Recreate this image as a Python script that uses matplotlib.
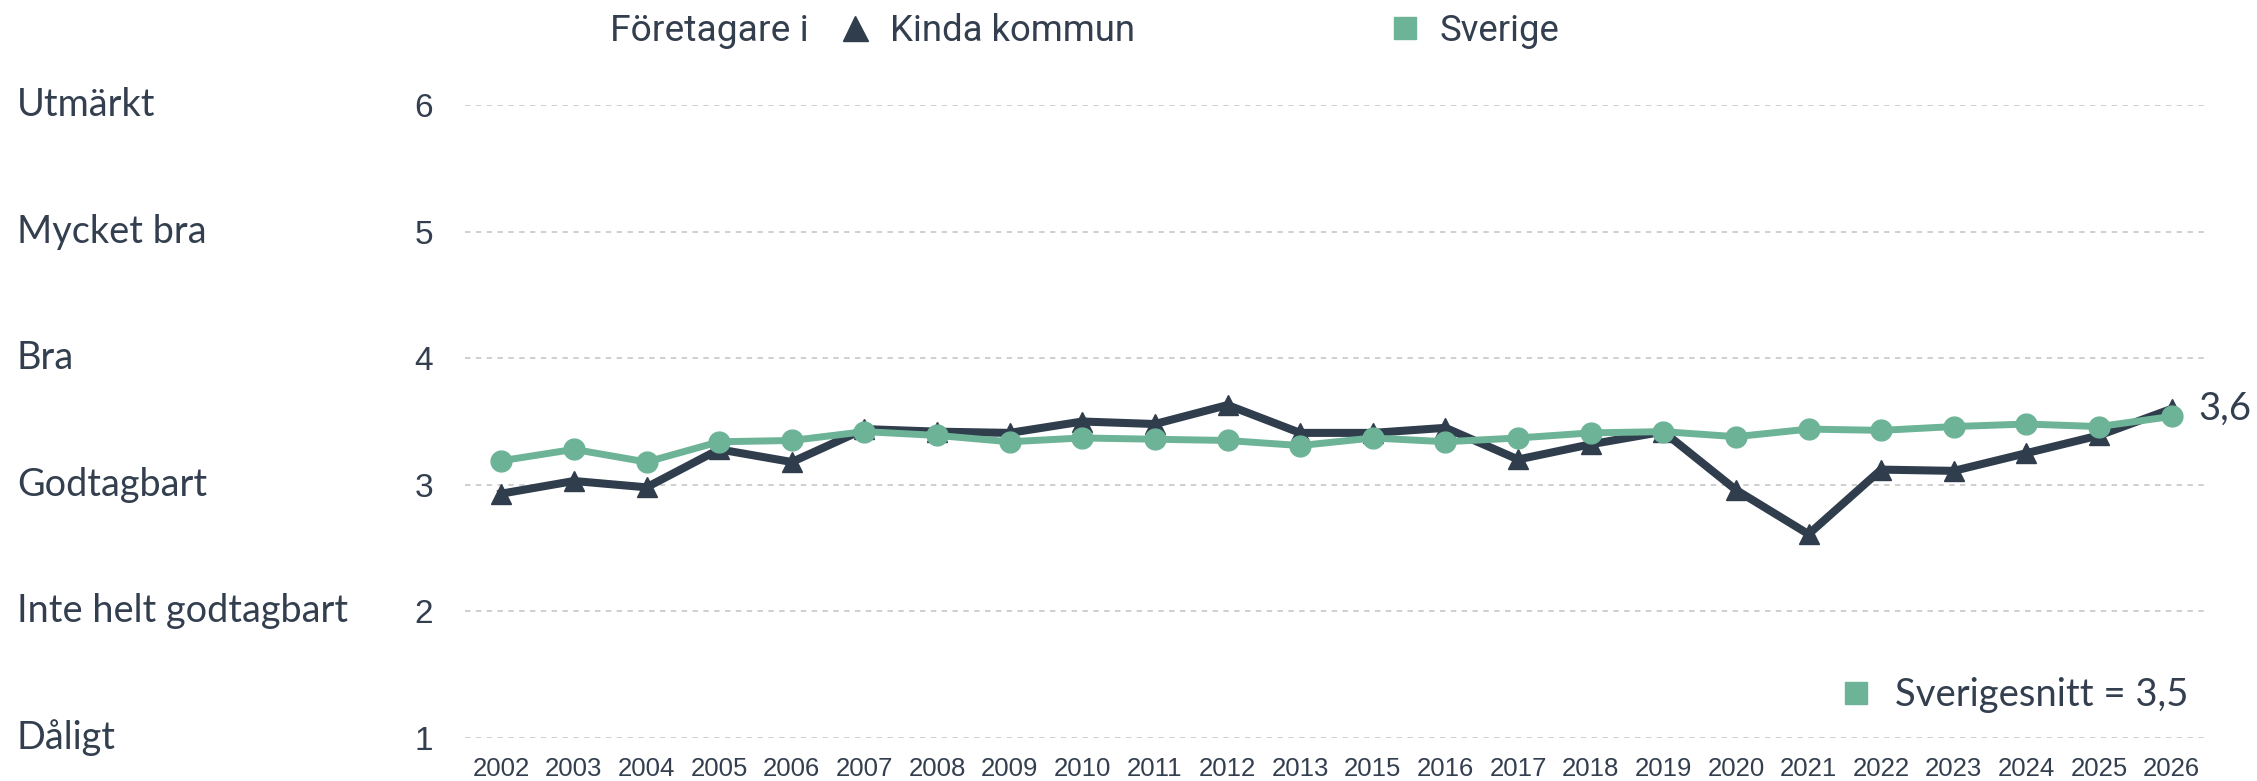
import matplotlib.pyplot as plt
import numpy as np
from matplotlib.lines import Line2D
from matplotlib.transforms import blended_transform_factory

plt.rcParams['font.family'] = ['Roboto', 'DejaVu Sans']

# data
years = ['2002', '2003', '2004', '2005', '2006', '2007', '2008', '2009', '2010', '2011',
         '2012', '2013', '2015', '2016', '2017', '2018', '2019', '2020', '2021', '2022',
         '2023', '2024', '2025', '2026']
kinda = [2.93, 3.03, 2.98, 3.28, 3.18, 3.44, 3.42, 3.41, 3.50, 3.48,
         3.63, 3.41, 3.41, 3.45, 3.20, 3.32, 3.42, 2.96, 2.61, 3.12,
         3.11, 3.25, 3.39, 3.60]
sverige = [3.19, 3.28, 3.18, 3.34, 3.35, 3.42, 3.39, 3.34, 3.37, 3.36,
           3.35, 3.31, 3.37, 3.34, 3.37, 3.41, 3.42, 3.38, 3.44, 3.43,
           3.46, 3.48, 3.46, 3.54]
grade_values = [6, 5, 4, 3, 2, 1]
grade_labels = ['Utmärkt', 'Mycket bra', 'Bra', 'Godtagbart', 'Inte helt godtagbart', 'Dåligt']

dark = '#2f3d4d'
green = '#6db397'
text_col = '#333f4f'
label_font = ['Lato', 'DejaVu Sans']
num_font = ['Liberation Sans', 'DejaVu Sans']

W, H = 2257, 781
fig = plt.figure(figsize=(W / 100, H / 100), dpi=100)
ax = fig.add_axes([465 / W, 1 - 738 / H, (2208 - 465) / W, (738 - 105) / H])

x = np.arange(len(years))
ax.plot(x, kinda, color=dark, lw=5.8, marker='^', markersize=15, zorder=3, clip_on=False)
ax.plot(x, sverige, color=green, lw=5, marker='o', markersize=15, zorder=4, clip_on=False)

ax.set_xlim(-0.5, len(years) - 0.5)
ax.set_ylim(1, 6)
ax.set_yticks(grade_values)
ax.set_yticklabels([str(v) for v in grade_values], fontsize=24, color=text_col, family=num_font)
ax.set_xticks(x)
ax.set_xticklabels(years, fontsize=18.5, color=text_col, family=num_font)
ax.tick_params(axis='y', length=0, pad=23)
ax.tick_params(axis='x', length=0, pad=14)
for s in ax.spines.values():
    s.set_visible(False)
ax.grid(axis='y', color='#cccccc', linestyle=(0, (3, 3)), lw=1.3)
ax.set_axisbelow(True)

# grade names on the far left
trans = blended_transform_factory(fig.transFigure, ax.transData)
for v, lab in zip(grade_values, grade_labels):
    ax.text(17 / W, v, lab, transform=trans, ha='left', va='center', fontsize=27.3,
            color=text_col, family=label_font)

# last value label
ax.annotate(f'{kinda[-1]:.1f}'.replace('.', ','), (x[-1], kinda[-1]), xytext=(19, 0),
            textcoords='offset points', ha='left', va='center', fontsize=27.5, color=text_col,
            family=label_font, annotation_clip=False)

# top legend
fig.text(610 / W, 1 - 31 / H, 'Företagare i', ha='left', va='center', fontsize=26.8, color=text_col)
handles = [Line2D([], [], ls='none', marker='^', markersize=18, color=dark),
           Line2D([], [], ls='none', marker='s', markersize=16, color=green)]
fig.legend(handles, ['Kinda kommun', 'Sverige'], loc='center left', ncol=2,
           bbox_to_anchor=(837 / W, 1 - 31 / H), frameon=False, fontsize=26.3,
           handlelength=1, handletextpad=0.45, columnspacing=6.9,
           borderpad=0, borderaxespad=0, labelcolor=text_col)

# bottom average legend
avg = Line2D([], [], ls='none', marker='s', markersize=16, color=green)
ax.legend([avg], [f'Sverigesnitt = {sverige[-1]:.1f}'.replace('.', ',')], loc='center right',
          bbox_to_anchor=((2188 - 465) / (2208 - 465), (738 - 695) / (738 - 105)),
          frameon=False, handlelength=1, handletextpad=0.5,
          prop={'family': label_font, 'size': 27.5},
          borderpad=0, borderaxespad=0, labelcolor=text_col)

fig.savefig('out.png', dpi=100)
